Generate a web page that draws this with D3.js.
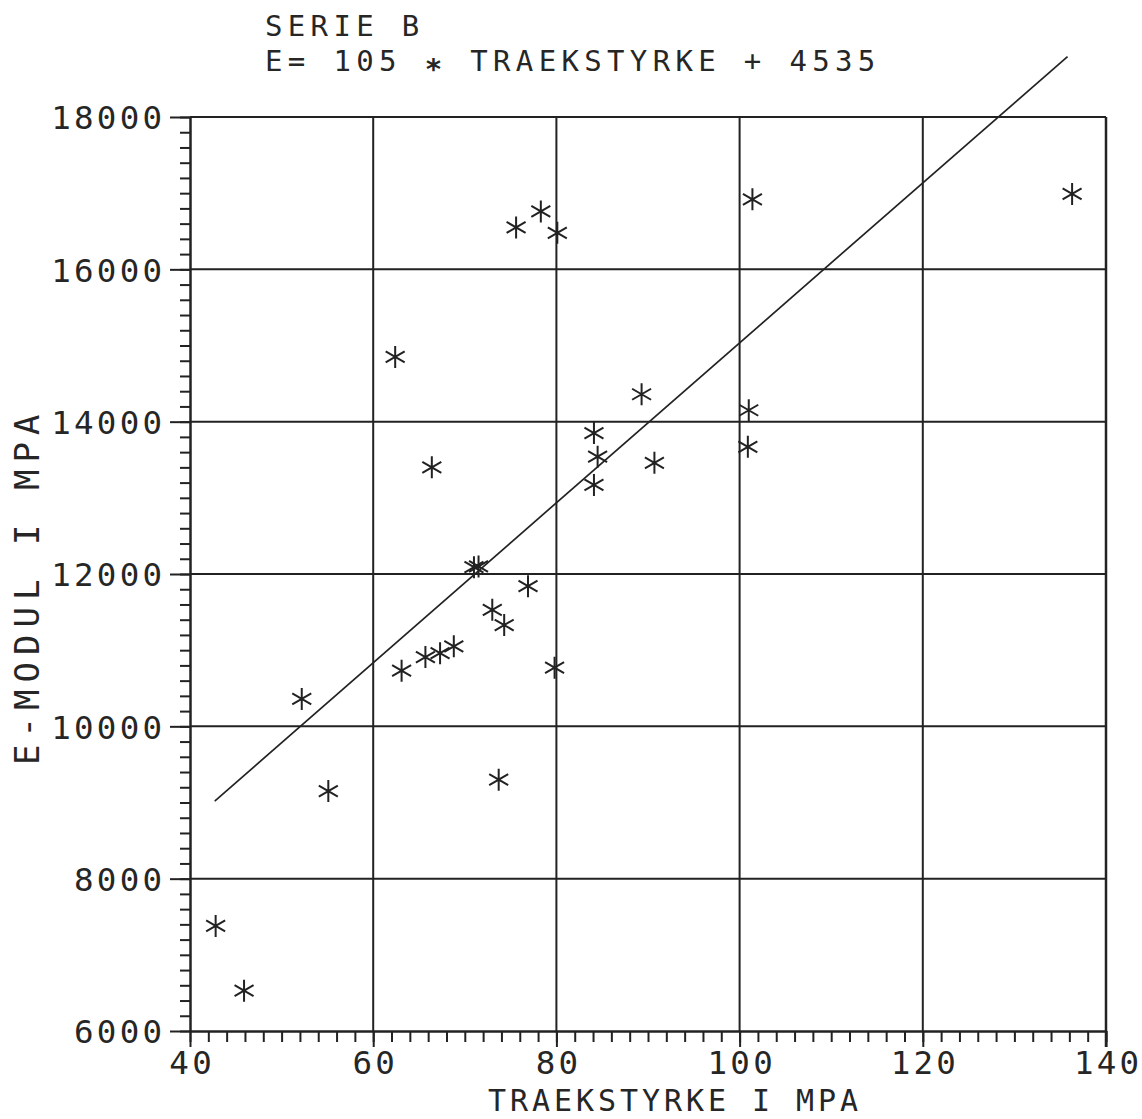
<!DOCTYPE html>
<html>
<head>
<meta charset="utf-8">
<script src="https://cdn.jsdelivr.net/npm/d3@7"></script>
<style>
  html, body { margin: 0; padding: 0; background: #fff; }
  svg { display: block; }
  text { font-family: "DejaVu Sans Mono", monospace; fill: #262626; }
</style>
</head>
<body>
<svg id="chart" width="1142" height="1119"></svg>
<script>
// ---- data ----
const tensile = [42.8, 45.9, 52.2, 55.1, 62.4, 63.1, 65.7, 67.3, 68.8, 66.4,
                 71.0, 71.5, 73.0, 74.3, 76.9, 73.7, 79.8, 75.6, 78.3, 80.1,
                 84.1, 84.5, 84.1, 89.3, 90.7, 101.0, 100.9, 101.4, 136.3];
const emodul  = [7380, 6530, 10360, 9150, 14850, 10730, 10910, 10960, 11050, 13400,
                 12090, 12100, 11530, 11330, 11840, 9300, 10770, 16550, 16760, 16480,
                 13850, 13540, 13170, 14360, 13460, 14150, 13670, 16920, 16990];
const xTicks = [40, 60, 80, 100, 120, 140];
const yTicks = [6000, 8000, 10000, 12000, 14000, 16000, 18000];
const fitSlope = 105;
const fitIntercept = 4535;
const fitRange = [42.7, 135.8];
const titleLines = ["SERIE B", "E= 105 * TRAEKSTYRKE + 4535"];
const xTitle = "TRAEKSTYRKE I MPA";
const yTitle = "E-MODUL I MPA";

// ---- layout ----
const svg = d3.select("#chart");
const x = d3.scaleLinear().domain([40, 140]).range([190, 1106]);
const y = d3.scaleLinear().domain([6000, 18000]).range([1031, 117]);
const ink = "#222";
const FS = 32.5, ADV = 22.8, LS = ADV - 0.602 * FS;
const TFS = 29, TLS = ADV - 0.602 * TFS;

// gridlines
const g = svg.append("g");
g.selectAll("line.vg").data(xTicks.filter(t => t > 40 && t < 140)).join("line")
  .attr("x1", d => x(d)).attr("x2", d => x(d)).attr("y1", y(18000)).attr("y2", y(6000))
  .attr("stroke", ink).attr("stroke-width", 2);
g.selectAll("line.hg").data(yTicks.filter(t => t > 6000 && t < 18000)).join("line")
  .attr("x1", x(40)).attr("x2", x(140)).attr("y1", d => y(d)).attr("y2", d => y(d))
  .attr("stroke", ink).attr("stroke-width", 2);
// top border
g.append("line").attr("x1", x(40)).attr("x2", x(140)).attr("y1", y(18000)).attr("y2", y(18000))
  .attr("stroke", ink).attr("stroke-width", 2);
// right border (extends as the 140 major tick)
g.append("line").attr("x1", x(140)).attr("x2", x(140)).attr("y1", y(18000)).attr("y2", y(6000) + 16)
  .attr("stroke", ink).attr("stroke-width", 2.5);

// axes: minor ticks
function styleAxis(sel) {
  sel.selectAll("path").attr("stroke", ink).attr("stroke-width", 2);
  sel.selectAll("line").attr("stroke", ink).attr("stroke-width", 2);
}
svg.append("g").attr("transform", `translate(${x(40)},0)`)
  .call(d3.axisLeft(y).tickValues(d3.range(6000, 18001, 200)).tickSize(10).tickFormat("").tickSizeOuter(0))
  .call(styleAxis);
svg.append("g").attr("transform", `translate(0,${y(6000)})`)
  .call(d3.axisBottom(x).tickValues(d3.range(40, 140.1, 2)).tickSize(11).tickFormat("").tickSizeOuter(0))
  .call(styleAxis);

// axes: major ticks + labels
const yAx = svg.append("g").attr("transform", `translate(${x(40)},0)`)
  .call(d3.axisLeft(y).tickValues(yTicks).tickSize(20).tickPadding(7).tickSizeOuter(0).tickFormat(d => String(d)))
  .call(styleAxis);
yAx.selectAll("text").attr("font-size", FS).attr("letter-spacing", LS)
  .attr("font-family", "DejaVu Sans Mono").attr("fill", "#262626")
  .attr("dx", LS - 1).attr("dy", "0.36em");
const xAx = svg.append("g").attr("transform", `translate(0,${y(6000)})`)
  .call(d3.axisBottom(x).tickValues(xTicks).tickSize(16).tickPadding(7).tickSizeOuter(0).tickFormat(d => String(d)))
  .call(styleAxis);
xAx.selectAll("text").attr("font-size", FS).attr("letter-spacing", LS)
  .attr("font-family", "DejaVu Sans Mono").attr("fill", "#262626")
  .attr("dx", LS / 2).attr("dy", "0.62em");

// regression line
svg.append("path")
  .datum(fitRange)
  .attr("d", d3.line().x(d => x(d)).y(d => y(fitSlope * d + fitIntercept)))
  .attr("stroke", ink).attr("stroke-width", 1.7).attr("fill", "none");

// asterisk markers
const star = "M0,-11L0,11M-9.5,-5.5L9.5,5.5M-9.5,5.5L9.5,-5.5";
svg.append("g").selectAll("path").data(tensile.map((t, i) => [t, emodul[i]])).join("path")
  .attr("transform", d => `translate(${x(d[0])},${y(d[1])})`)
  .attr("d", star).attr("stroke", ink).attr("stroke-width", 2).attr("fill", "none");

// titles
svg.append("text").attr("x", 265).attr("y", 36).attr("font-size", TFS).attr("letter-spacing", TLS)
  .text(titleLines[0]);
const t2 = svg.append("text").attr("x", 265).attr("y", 71).attr("font-size", TFS).attr("letter-spacing", TLS);
const parts = titleLines[1].split("*");
t2.append("tspan").text(parts[0]);
t2.append("tspan").attr("dy", 8).attr("font-weight", "bold").text("*");
t2.append("tspan").attr("dy", -8).text(parts[1]);

// axis titles
const XFS = 30;
svg.append("text").attr("x", 488).attr("y", 1111).attr("font-size", XFS).attr("letter-spacing", 22 - 0.602 * XFS)
  .text(xTitle);
const YFS = 34;
svg.append("text").attr("transform", "translate(39,765) rotate(-90)")
  .attr("font-size", YFS).attr("letter-spacing", 27.5 - 0.602 * YFS)
  .text(yTitle);
</script>
</body>
</html>
